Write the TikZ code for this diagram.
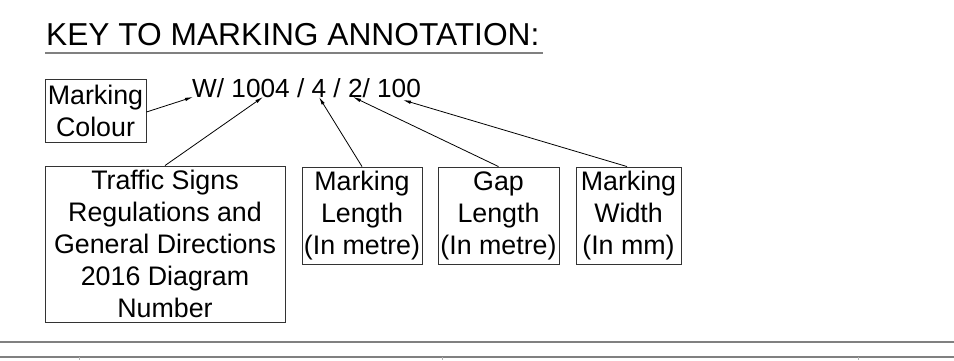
\documentclass[tikz,border=0pt]{standalone}
\usepackage{fontspec}
\setmainfont{Liberation Sans}
\usetikzlibrary{arrows.meta}
\tikzset{
  keybox/.style={draw=black!80, line width=0.9pt, inner sep=0pt, align=center,
    font=\fontsize{26.8}{32}\selectfont},
  pointer/.style={draw=black, line width=0.8pt, -{Latex[length=8pt,width=3.5pt]}},
  rule/.style={draw=black!50, line width=2pt},
  tick/.style={draw=black!30, line width=1pt}
}
\begin{document}
\begin{tikzpicture}[x=1pt,y=-1pt]
\useasboundingbox (0,0) rectangle (954,360);
% title
\node[anchor=base west, inner sep=0pt, font=\fontsize{31.7}{36}\selectfont] (title) at (46,45) {KEY TO MARKING ANNOTATION:};
\draw[rule] (45,52.5) -- (543,52.5);
% annotation code
\node[anchor=base west, inner sep=0pt, font=\fontsize{26.2}{31}\selectfont] (code) at (192,97) {W/ 1004 / 4 / 2/ 100};
\coordinate (tipW) at (193,97);
\coordinate (tipDiag) at (263,97);
\coordinate (tipLen) at (319,97);
\coordinate (tipGap) at (353,97);
\coordinate (tipWid) at (403,100);
% boxes
\node[keybox, minimum width=101pt, minimum height=63pt] (colour) at (95.5,110.5) {Marking\\Colour};
\node[keybox, minimum width=240pt, minimum height=156pt] (tsrgd) at (165,244) {Traffic Signs\\Regulations and\\General Directions\\2016 Diagram\\Number};
\node[keybox, minimum width=120pt, minimum height=97pt] (mlen) at (362,215.5) {Marking\\Length\\(In metre)};
\node[keybox, minimum width=121pt, minimum height=97pt] (glen) at (498.5,215.5) {Gap\\Length\\(In metre)};
\node[keybox, minimum width=105pt, minimum height=97pt] (mwid) at (628.5,215.5) {Marking\\Width\\(In mm)};
% pointers
\draw[pointer] ([yshift=-1.5pt]colour.east) -- (tipW);
\draw[pointer] (tsrgd.north) -- (tipDiag);
\draw[pointer] (mlen.north) -- (tipLen);
\draw[pointer] (glen.north) -- (tipGap);
\draw[pointer] ([xshift=-1.5pt]mwid.north) -- (tipWid);
% bottom rules
\draw[rule] (0,342) -- (954,342);
\draw[rule] (0,357) -- (954,357);
\draw[tick] (79,357) -- (79,360);
\draw[tick] (442,357) -- (442,360);
\draw[tick] (858,357) -- (858,360);
\end{tikzpicture}
\end{document}
